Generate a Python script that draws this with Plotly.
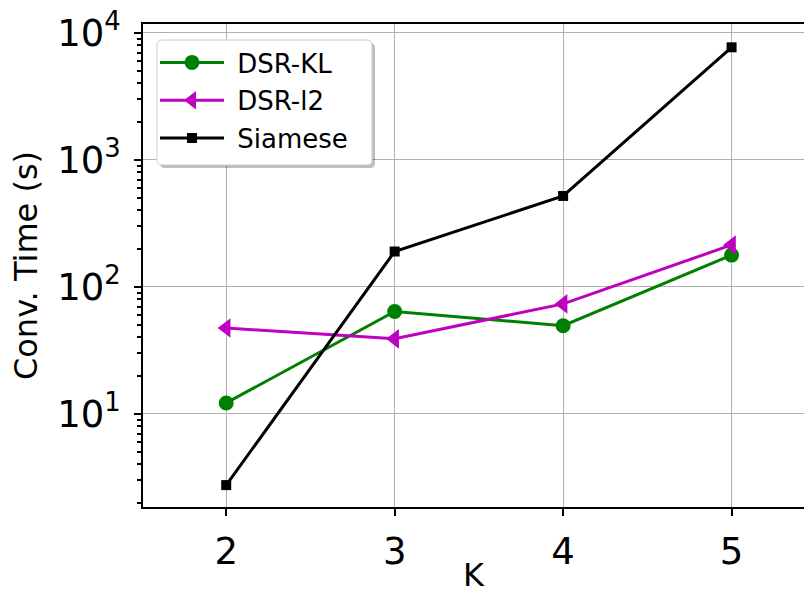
import plotly.graph_objects as go

K = [2, 3, 4, 5]
dsr_kl = [12.2, 64, 49.5, 178]
dsr_l2 = [47.5, 39, 73.5, 214]
siamese = [2.75, 190, 520, 7700]
series_names = ["DSR-KL", "DSR-l2", "Siamese"]

y_tickvals = [10, 100, 1000, 10000]
y_ticktext = ["10<sup>1</sup>", "10<sup>2</sup>", "10<sup>3</sup>", "10<sup>4</sup>"]
minor_vals = [m * 10 ** e for e in range(0, 5) for m in range(2, 10)]

FONT = "DejaVu Sans"

# plot-area geometry in pixels
L, T, R, B = 143, 24, 804, 507
PW, PH = R - L, B - T


def px(x):
    return (x - L) / PW


def py(y):
    return (B - y) / PH


def rounded_box(x0, y0, x1, y1, r=5):
    rx, ry = r / PW, r / PH
    a0, a1 = px(x0), px(x1)
    b0, b1 = py(y1), py(y0)  # b0 bottom, b1 top
    return (f"M {a0+rx},{b1} L {a1-rx},{b1} Q {a1},{b1} {a1},{b1-ry} "
            f"L {a1},{b0+ry} Q {a1},{b0} {a1-rx},{b0} L {a0+rx},{b0} "
            f"Q {a0},{b0} {a0},{b0+ry} L {a0},{b1-ry} Q {a0},{b1} {a0+rx},{b1} Z")


fig = go.Figure()
fig.add_trace(go.Scatter(x=K, y=dsr_kl, name="\u00a0" + series_names[0], mode="lines+markers",
                         legendgroup="a", line=dict(color="#008000", width=3),
                         marker=dict(symbol="circle", size=15, color="#008000")))
fig.add_trace(go.Scatter(x=K, y=dsr_l2, name="\u00a0" + series_names[1], mode="lines+markers",
                         legendgroup="b", line=dict(color="#bf00bf", width=3),
                         marker=dict(symbol="triangle-left", size=17, color="#bf00bf")))
fig.add_trace(go.Scatter(x=K, y=siamese, name="\u00a0" + series_names[2], mode="lines+markers",
                         legendgroup="c", line=dict(color="black", width=3),
                         marker=dict(symbol="square", size=10, color="black")))

shapes = [
    dict(type="path", xref="paper", yref="paper", path=rounded_box(160, 43, 375, 168),
         fillcolor="rgba(0,0,0,0.25)", line=dict(width=0), layer="above"),
    dict(type="path", xref="paper", yref="paper", path=rounded_box(157, 40, 372, 165),
         fillcolor="white", line=dict(color="#cccccc", width=1), layer="above"),
]

fig.update_layout(
    width=804, height=594,
    margin=dict(l=L, r=804 - R, t=T, b=594 - B, autoexpand=False),
    paper_bgcolor="white", plot_bgcolor="white",
    font=dict(family=FONT, color="black"),
    showlegend=True,
    shapes=shapes,
    legend=dict(x=px(155), y=py(39), xanchor="left", yanchor="top",
                bgcolor="rgba(0,0,0,0)", borderwidth=0,
                font=dict(size=26, family=FONT), itemwidth=64, tracegroupgap=1),
    xaxis=dict(range=[1.506, 5.43], tickvals=K, ticktext=[str(k) for k in K],
               tickfont=dict(size=37), ticks="outside", ticklen=7, tickwidth=1.5,
               tickcolor="black", showline=True, linecolor="black", linewidth=1.5,
               mirror=True, showgrid=True, gridcolor="#b0b0b0", gridwidth=1,
               zeroline=False, ticklabelstandoff=4, automargin=False,
               title=dict(text="K", font=dict(size=32), standoff=11)),
    yaxis=dict(type="log", range=[0.267, 4.07], tickvals=y_tickvals, ticktext=y_ticktext,
               tickfont=dict(size=37), ticks="outside", ticklen=7, tickwidth=1.5,
               tickcolor="black", showline=True, linecolor="black", linewidth=1.5,
               showgrid=True, gridcolor="#b0b0b0", gridwidth=1, zeroline=False,
               ticklabelstandoff=6, automargin=False,
               minor=dict(tickvals=minor_vals, ticks="outside", ticklen=4, tickcolor="black",
                          showgrid=False),
               title=dict(text="Conv. Time (s)", font=dict(size=32), standoff=10)),
)

fig.write_html("out.html", config={"displayModeBar": False},
               post_script="document.body.style.margin='0';document.body.style.overflow='hidden';")
